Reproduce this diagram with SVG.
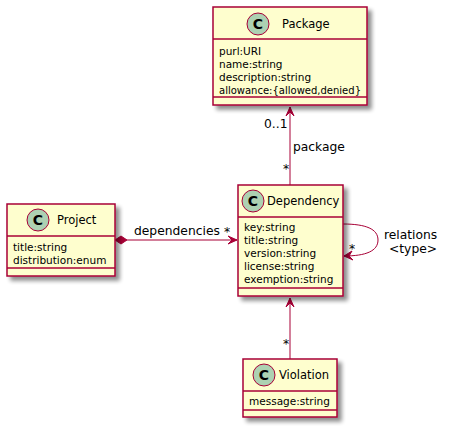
<svg xmlns="http://www.w3.org/2000/svg" width="450" height="431" viewBox="0 0 450 431">
<defs>
<filter id="sh" x="-10%" y="-10%" width="130%" height="130%">
<feGaussianBlur in="SourceAlpha" stdDeviation="2"/>
<feOffset dx="4" dy="4" result="b"/>
<feComponentTransfer><feFuncA type="linear" slope="0.45"/></feComponentTransfer>
<feMerge><feMergeNode/><feMergeNode in="SourceGraphic"/></feMerge>
</filter>
</defs>
<style>
.box{fill:#FEFECE;stroke:#A80036;stroke-width:1.5}
.sep{stroke:#A80036;stroke-width:1.5}
.circ{fill:#ADD1B2;stroke:#A80036;stroke-width:1}
.C{font-family:"DejaVu Sans",sans-serif;font-size:14px;font-weight:bold;fill:#000;text-anchor:middle}
.name{font-family:"DejaVu Sans",sans-serif;font-size:11.5px;fill:#000}
.attr{font-family:"DejaVu Sans",sans-serif;font-size:10.5px;fill:#000}
.lbl{font-family:"DejaVu Sans",sans-serif;font-size:12.3px;fill:#000}
.edge{fill:none;stroke:#A80036;stroke-width:1}
.head{fill:#A80036;stroke:#A80036;stroke-width:1}
</style>
<rect width="450" height="431" fill="#FFFFFF"/>
<g id="connectors">
<path class="edge" d="M290,107 L290,185"/>
<polygon class="head" points="290,107 286,116 290,112 294,116"/>
<text class="lbl" x="264" y="128">0..1</text>
<text class="lbl" x="293" y="151">package</text>
<text class="lbl" x="283" y="173">*</text>
<path class="edge" d="M127,240 L237,240"/>
<polygon class="head" points="115,240 121,236 127,240 121,244"/>
<polygon class="head" points="237,240 228,236 232,240 228,244"/>
<text class="lbl" x="134" y="235">dependencies</text>
<text class="lbl" x="224" y="236">*</text>
<path class="edge" d="M343,224 C366,224 378,229 378,240 C378,251 366,256 344,256"/>
<polygon class="head" points="344,256 352,251 349,256 353,260"/>
<text class="lbl" x="349" y="253">*</text>
<text class="lbl" x="384" y="239">relations</text>
<text class="lbl" x="389" y="253">&lt;type&gt;</text>
<path class="edge" d="M290,298 L290,359"/>
<polygon class="head" points="290,298 286,307 290,303 294,307"/>
<text class="lbl" x="283" y="348">*</text>
</g>
<g id="Package">
<rect class="box" x="213" y="7" width="154" height="98" filter="url(#sh)"/>
<line class="sep" x1="213" y1="39" x2="367" y2="39"/>
<line class="sep" x1="213" y1="97" x2="367" y2="97"/>
<circle class="circ" cx="258" cy="24" r="11"/>
<text class="C" x="258" y="29">C</text>
<text class="name" x="282" y="28">Package</text>
<text class="attr" x="219" y="55">purl:URI</text>
<text class="attr" x="219" y="68">name:string</text>
<text class="attr" x="219" y="81">description:string</text>
<text class="attr" x="219" y="94" textLength="142" lengthAdjust="spacingAndGlyphs">allowance:{allowed,denied}</text>
</g>
<g id="Project">
<rect class="box" x="7" y="204" width="108" height="72" filter="url(#sh)"/>
<line class="sep" x1="7" y1="236" x2="115" y2="236"/>
<line class="sep" x1="7" y1="268" x2="115" y2="268"/>
<circle class="circ" cx="38" cy="220" r="11"/>
<text class="C" x="38" y="225">C</text>
<text class="name" x="57" y="224">Project</text>
<text class="attr" x="13" y="251">title:string</text>
<text class="attr" x="13" y="264">distribution:enum</text>
</g>
<g id="Dependency">
<rect class="box" x="238" y="185" width="105" height="111" filter="url(#sh)"/>
<line class="sep" x1="238" y1="217" x2="343" y2="217"/>
<line class="sep" x1="238" y1="288" x2="343" y2="288"/>
<circle class="circ" cx="253" cy="201" r="11"/>
<text class="C" x="253" y="206">C</text>
<text class="name" x="267" y="205">Dependency</text>
<text class="attr" x="244" y="231">key:string</text>
<text class="attr" x="244" y="244">title:string</text>
<text class="attr" x="244" y="257">version:string</text>
<text class="attr" x="244" y="270">license:string</text>
<text class="attr" x="244" y="283">exemption:string</text>
</g>
<g id="Violation">
<rect class="box" x="243" y="359" width="94" height="58" filter="url(#sh)"/>
<line class="sep" x1="243" y1="391" x2="337" y2="391"/>
<line class="sep" x1="243" y1="410" x2="337" y2="410"/>
<circle class="circ" cx="264" cy="375" r="11"/>
<text class="C" x="264" y="380">C</text>
<text class="name" x="279" y="379">Violation</text>
<text class="attr" x="249" y="405">message:string</text>
</g>
</svg>
